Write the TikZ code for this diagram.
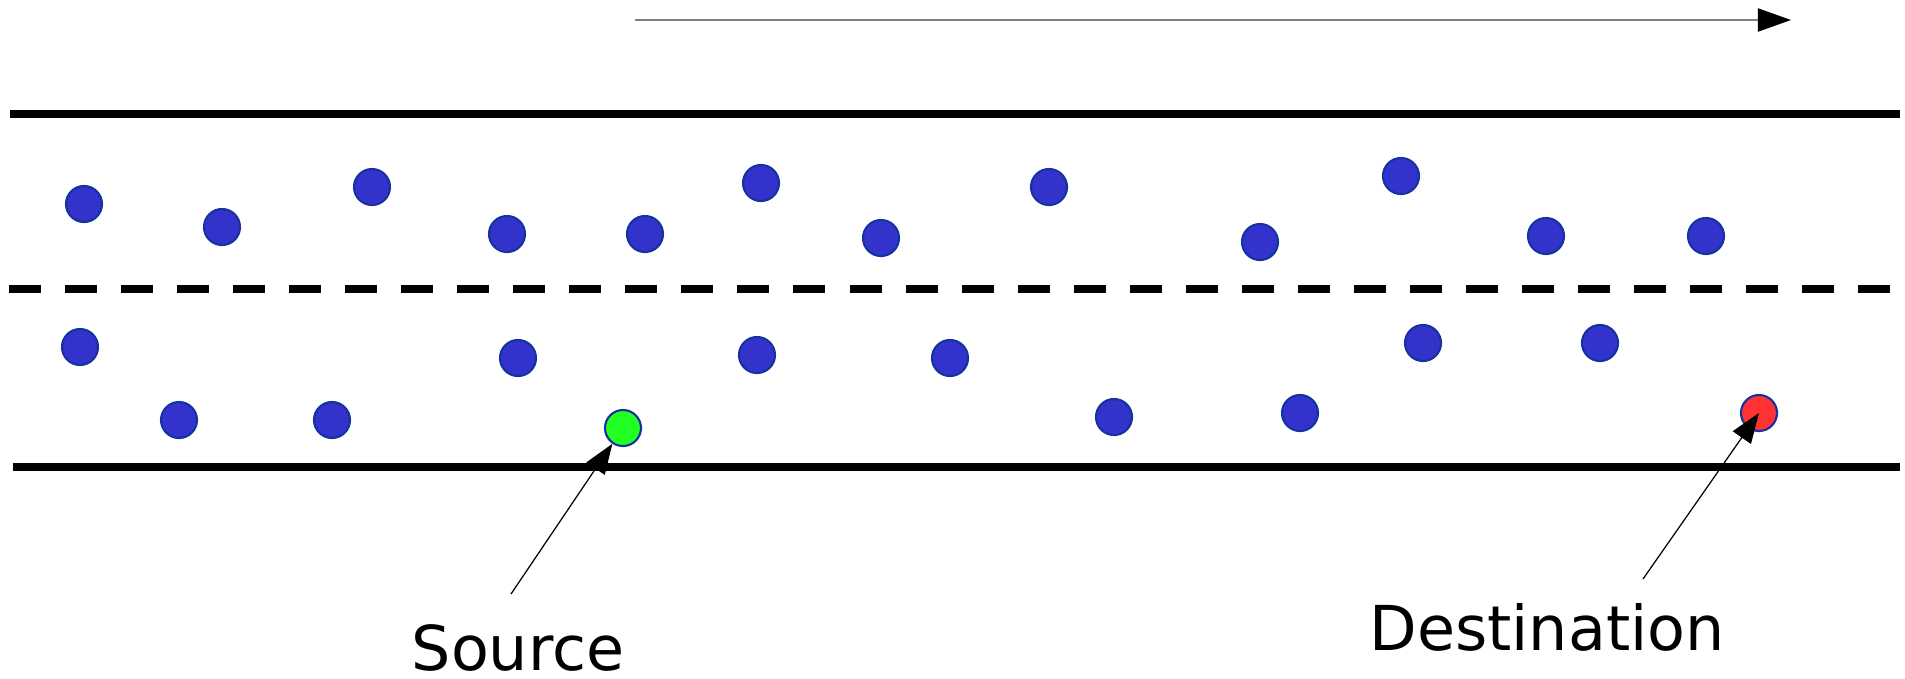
\documentclass[tikz,border=0pt]{standalone}
\usepackage{fontspec}
\setmainfont{DejaVu Sans}
\usetikzlibrary{arrows.meta}
\definecolor{carblue}{RGB}{51,51,204}
\definecolor{caredge}{RGB}{20,50,160}
\definecolor{srcgreen}{RGB}{34,255,34}
\definecolor{dstred}{RGB}{255,51,51}

\begin{document}
\begin{tikzpicture}[x=0.01cm,y=-0.01cm,
  car/.style={circle,draw=caredge,line width=0.6pt,fill=carblue,inner sep=0pt,minimum size=0.36cm},
  road/.style={line width=0.08cm},
  tag/.style={font=\fontsize{17.6}{21}\selectfont,anchor=base},
  ptr/.style={-{Triangle[length=0.3cm,width=0.22cm]},line width=0.35pt}]
\useasboundingbox (0,0) rectangle (1905,678);
% driving direction
\coordinate (dirA) at (635,20);
\coordinate (dirB) at (1791,20);
\draw[-{Triangle[length=0.33cm,width=0.23cm,color=black]},draw=gray,line width=0.55pt] (dirA)--(dirB);
% road
\draw[road] (10,114)--(1900,114);
\draw[road,dash pattern=on 0.32cm off 0.24cm] (9,289)--(1890,289);
\draw[road] (13,467)--(1900,467);
% upper lane
\node[car] (u1) at (84,204) {};
\node[car] (u2) at (222,227) {};
\node[car] (u3) at (372,187) {};
\node[car] (u4) at (507,234) {};
\node[car] (u5) at (645,234) {};
\node[car] (u6) at (761,183) {};
\node[car] (u7) at (881,238) {};
\node[car] (u8) at (1049,187) {};
\node[car] (u9) at (1260,242) {};
\node[car] (u10) at (1401,176) {};
\node[car] (u11) at (1546,236) {};
\node[car] (u12) at (1706,236) {};
% lower lane
\node[car] (l1) at (80,347) {};
\node[car] (l2) at (179,420) {};
\node[car] (l3) at (332,420) {};
\node[car] (l4) at (518,358) {};
\node[car] (l5) at (757,355) {};
\node[car] (l6) at (950,358) {};
\node[car] (l7) at (1114,417) {};
\node[car] (l8) at (1300,413) {};
\node[car] (l9) at (1423,343) {};
\node[car] (l10) at (1600,343) {};
\node[car,fill=srcgreen] (src) at (623,428) {};
\node[car,fill=dstred] (dst) at (1759,413) {};
% labels
\node[tag] (srctxt) at (518,670) {Source};
\node[tag] (dsttxt) at (1547,650) {Destination};
\coordinate (srcfoot) at (511,594);
\coordinate (dstfoot) at (1643,579);
\draw[ptr] (srcfoot)--(src);
\draw[ptr] (dstfoot)--(dst.center);
\end{tikzpicture}
\end{document}
